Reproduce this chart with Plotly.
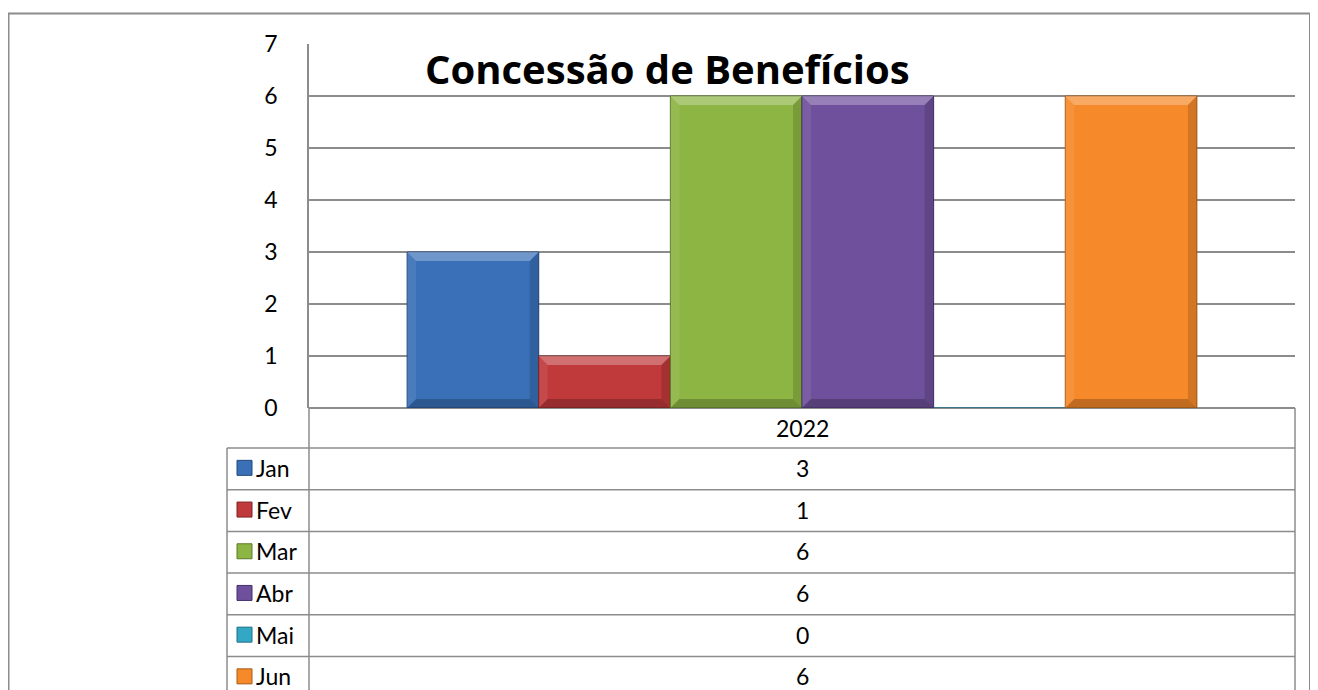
import plotly.graph_objects as go

# ---- data ----
title = "Concessão de Benefícios"
category = ["2022"]
months = ["Jan", "Fev", "Mar", "Abr", "Mai", "Jun"]
values = [3, 1, 6, 6, 0, 6]
colors = ["#3a70b8", "#c0393b", "#8db543", "#6f509c", "#33a8c4", "#f68a2a"]
edge_colors = ["#23497c", "#7e2223", "#5c7a27", "#45306a", "#1f6f84", "#a85a15"]
y_ticks = [0, 1, 2, 3, 4, 5, 6, 7]

OFF = 8  # page body margin
W, H = 1318 - OFF, 690 - OFF
PL, PR, PT, PB = 309, 1295, 44, 408  # plot area in page pixels
BARGAP = 0.199
YMAX = 7

def XP(px):
    return (px - PL) / (PR - PL)

def YP(py):
    return (PB - py) / (PB - PT)

FONT = "Lato, 'Open Sans', sans-serif"
TFONT = "'Open Sans', Lato, sans-serif"
GRID = "#8c8c8c"
FS = 23

fig = go.Figure()
for m, v, c, e in zip(months, values, colors, edge_colors):
    fig.add_trace(go.Bar(
        name=m, x=category, y=[v],
        marker=dict(color=c, line=dict(color=e, width=1)),
        showlegend=False,
    ))

shapes = []
annotations = []

# bevel effect on bars (derived from the bar geometry)
n = len(months)
bw = (1 - BARGAP) / n
dx = 9 / (PR - PL)           # bevel depth in category units
dy = 9 / (PB - PT) * YMAX     # bevel depth in value units
for i, v in enumerate(values):
    if v <= 0:
        continue
    x0 = -0.5 + BARGAP / 2 + i * bw
    x1 = x0 + bw
    shapes.append(dict(type="path", xref="x", yref="y", layer="above",
                       path=f"M{x0},{v} L{x1},{v} L{x1-dx},{v-dy} L{x0+dx},{v-dy} Z",
                       fillcolor="rgba(255,255,255,0.28)", line=dict(width=0)))
    shapes.append(dict(type="path", xref="x", yref="y", layer="above",
                       path=f"M{x0},{v} L{x0+dx},{v-dy} L{x0+dx},{dy} L{x0},0 Z",
                       fillcolor="rgba(255,255,255,0.08)", line=dict(width=0)))
    shapes.append(dict(type="path", xref="x", yref="y", layer="above",
                       path=f"M{x1},{v} L{x1-dx},{v-dy} L{x1-dx},{dy} L{x1},0 Z",
                       fillcolor="rgba(0,0,0,0.14)", line=dict(width=0)))
    shapes.append(dict(type="path", xref="x", yref="y", layer="above",
                       path=f"M{x0},0 L{x1},0 L{x1-dx},{dy} L{x0+dx},{dy} Z",
                       fillcolor="rgba(0,0,0,0.22)", line=dict(width=0)))

# outer chart border
shapes.append(dict(type="rect", xref="paper", yref="paper",
                   x0=XP(8.5), x1=XP(1310), y0=YP(13.5), y1=YP(720),
                   line=dict(color="#8c8c8c", width=2), fillcolor="rgba(0,0,0,0)", layer="below"))

# data table
row_h = 41.7
row_tops = [448 + i * row_h for i in range(len(months))]
for xv, ytop in [(PL, PB), (PR, PB), (227, row_tops[0])]:
    shapes.append(dict(type="line", xref="paper", yref="paper",
                       x0=XP(xv), x1=XP(xv), y0=YP(ytop), y1=YP(720), line=dict(color=GRID, width=1.5)))
for t in row_tops:
    shapes.append(dict(type="line", xref="paper", yref="paper",
                       x0=XP(227), x1=XP(PR), y0=YP(t), y1=YP(t), line=dict(color=GRID, width=1.5)))

annotations.append(dict(text=category[0], xref="paper", yref="paper",
                        x=XP((PL + PR) / 2), y=YP((PB + row_tops[0]) / 2),
                        xanchor="center", yanchor="middle",
                        showarrow=False, font=dict(family=FONT, size=FS, color="#000")))

for i, (m, v, c, e) in enumerate(zip(months, values, colors, edge_colors)):
    cy = row_tops[i] + row_h / 2 - 1
    shapes.append(dict(type="rect", xref="paper", yref="paper",
                       x0=XP(237), x1=XP(252), y0=YP(cy - 7.5), y1=YP(cy + 7.5),
                       fillcolor=c, line=dict(color=e, width=1)))
    annotations.append(dict(text=m, xref="paper", yref="paper",
                            x=XP(254), y=YP(cy), xanchor="left", yanchor="middle",
                            showarrow=False, font=dict(family=FONT, size=FS, color="#000")))
    annotations.append(dict(text=str(v), xref="paper", yref="paper",
                            x=XP((PL + PR) / 2), y=YP(cy), xanchor="center", yanchor="middle",
                            showarrow=False, font=dict(family=FONT, size=FS, color="#000")))

# title
annotations.append(dict(text="<b>" + title + "</b>", xref="paper", yref="paper",
                        x=XP(667), y=YP(69), xanchor="center", yanchor="middle", showarrow=False,
                        font=dict(family=TFONT, size=40, color="#000")))

fig.update_layout(
    width=W, height=H,
    margin=dict(l=PL - OFF, r=1318 - PR, t=PT - OFF, b=690 - PB, pad=0),
    paper_bgcolor="white", plot_bgcolor="white",
    barmode="group", bargap=BARGAP, bargroupgap=0,
    shapes=shapes, annotations=annotations,
    font=dict(family=FONT, size=FS, color="#000"),
    xaxis=dict(showticklabels=False, showgrid=False, showline=False, zeroline=False,
               range=[-0.5, 0.5]),
    yaxis=dict(range=[0, YMAX], tickvals=y_ticks, showgrid=True, gridcolor=GRID, gridwidth=1.5,
               showline=True, linecolor=GRID, linewidth=1.5, zeroline=True, zerolinecolor=GRID,
               zerolinewidth=1.5, ticks="", ticklabelstandoff=25,
               tickfont=dict(family=FONT, size=FS, color="#000")),
)

fig.write_html("out.html")
